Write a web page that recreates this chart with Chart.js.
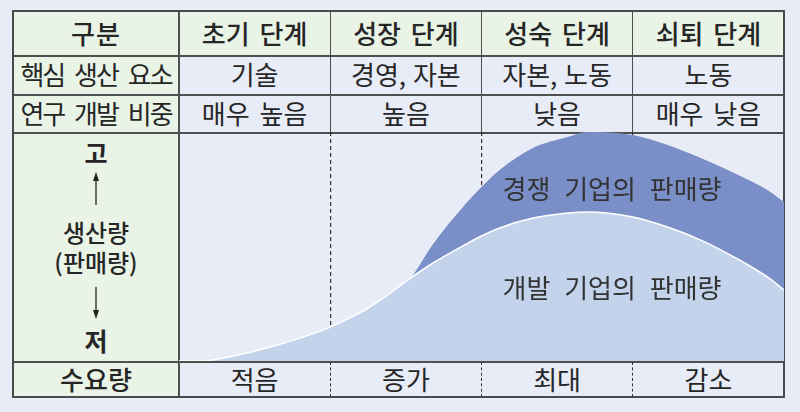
<!DOCTYPE html>
<html>
<head>
<meta charset="utf-8">
<script src="https://cdn.jsdelivr.net/npm/chart.js@4.4.0/dist/chart.umd.min.js"></script>
<style>
  html, body { margin: 0; padding: 0; width: 800px; height: 412px; overflow: hidden;
    background: #e8ecf7; font-family: "Noto Sans CJK KR", "Noto Sans", sans-serif; color: #262626; }
  .box { position: absolute; box-sizing: border-box; }
  .t { position: absolute; transform: translate(-50%, -50%); white-space: nowrap; line-height: 1; }
  #chartWrap { position: absolute; left: 179px; top: 132px; width: 605px; height: 229px; }
</style>
</head>
<body>
<div id="root"></div>
<div id="chartWrap"><canvas id="myChart"></canvas></div>
<div id="over"></div>
<script>
// table text
var rowTitle = '구분'
var stages = ['초기 단계', '성장 단계', '성숙 단계', '쇠퇴 단계']
var factorTitle = '핵심 생산 요소'
var coreFactors = ['기술', '경영, 자본', '자본, 노동', '노동']
var rdTitle = '연구 개발 비중'
var rdShare = ['매우 높음', '높음', '낮음', '매우 낮음']
var demandTitle = '수요량'
var demand = ['적음', '증가', '최대', '감소']

// curves: x in stage units (0..4), y in % of chart height (competitor stacked on developer)
var stagePos = [0, 0.16, 0.36, 0.58, 0.8, 1.0, 1.13, 1.24, 1.35, 1.46, 1.53, 1.68, 1.9, 2.0,
  2.12, 2.34, 2.57, 2.7, 3.0, 3.23, 3.45, 3.67, 3.89, 4.0]
var developerSales = [0, 0, 2.2, 5.7, 10.0, 14.8, 18.8, 22.7, 27.5, 32.8, 36.2, 42.8, 51.1, 54.6,
  58.1, 62.4, 64.6, 65.1, 62.9, 58.5, 52.8, 45.4, 36.7, 31.0]
var competitorSales = [0, 0, 0, 0, 0, 0, 0, 0, 0, 0, 0, 8.3, 17.9, 21.4,
  25.3, 30.6, 33.2, 34.9, 35.8, 35.8, 35.8, 36.7, 38.0, 38.4]
var developerLabel = '개발 기업의 판매량'
var competitorLabel = '경쟁 기업의 판매량'

var root = document.getElementById('root')
var over = document.getElementById('over')
function box (l, t, w, h, css) {
  var d = document.createElement('div')
  d.className = 'box'
  d.style.cssText = 'left:' + l + 'px;top:' + t + 'px;width:' + w + 'px;height:' + h + 'px;' + (css || '')
  root.appendChild(d)
  return d
}
function text (parent, s, cx, cy, css) {
  var d = document.createElement('div')
  d.className = 't'
  d.textContent = s
  d.style.cssText = 'left:' + cx + 'px;top:' + cy + 'px;' + (css || '')
  parent.appendChild(d)
  return d
}

var green = '#e9f4e6'
var line = '#4f4f4f'
var colX = [179, 330.25, 481.5, 632.75, 784]
var colC = [254.6, 405.9, 557.1, 708.4]

// backgrounds
box(12, 10, 773, 46, 'background:' + green)
box(12, 55, 167, 343, 'background:' + green)
// horizontal lines
box(12, 55, 773, 1.5, 'background:' + line)
box(12, 94, 773, 1.5, 'background:' + line)
box(12, 132, 773, 1.5, 'background:' + line)
box(12, 361, 773, 1.5, 'background:' + line)
// vertical lines
box(178, 10, 2, 388, 'background:' + line)
for (var i = 1; i < 4; i++) {
  box(colX[i] - 0.5, 10, 1.2, 123, 'background:' + line)
  box(colX[i] - 0.5, 362, 1.2, 35, 'border-left:1.2px dashed #333')
}
// outer frame
box(12, 10, 773, 388, 'border:2px solid #4a4a4a')

var hdr = 'font-size:26px;font-weight:500;'
var cell = 'font-size:26px;'
text(root, rowTitle, 96, 33, hdr + 'letter-spacing:1px')
text(root, factorTitle, 96, 74, cell + 'word-spacing:6px;letter-spacing:-2px')
text(root, rdTitle, 96, 113, cell + 'word-spacing:6px;letter-spacing:-2px')
text(root, demandTitle, 96, 379, hdr)
for (var k = 0; k < 4; k++) {
  text(root, stages[k], colC[k], 33, hdr + 'word-spacing:4px')
  text(root, coreFactors[k], colC[k], 74, cell + 'word-spacing:1px')
  text(root, rdShare[k], colC[k], 113, cell + 'word-spacing:4px')
  text(root, demand[k], colC[k], 379, cell)
}
// y axis label column
text(root, '고', 96, 152, 'font-size:25px;font-weight:700')
text(root, '생산량', 96, 232, 'font-size:24px;font-weight:500')
text(root, '(판매량)', 96, 262, 'font-size:24px;font-weight:500')
text(root, '저', 96, 340, 'font-size:25px;font-weight:700')
var svg = '<svg class="box" style="left:86px;top:165px" width="20" height="160" xmlns="http://www.w3.org/2000/svg">' +
  '<line x1="10" y1="14" x2="10" y2="40" stroke="#222" stroke-width="1.3"/>' +
  '<path d="M10 7 L7 16 L13 16 Z" fill="#222"/>' +
  '<line x1="10" y1="122" x2="10" y2="146" stroke="#222" stroke-width="1.3"/>' +
  '<path d="M10 154 L7 145 L13 145 Z" fill="#222"/></svg>'
root.insertAdjacentHTML('beforeend', svg)

function pts (arr) {
  return stagePos.map(function (x, i) { return { x: x, y: arr[i] } })
}
var ctx = document.getElementById('myChart')
var myChart = new Chart(ctx, {
  type: 'line',
  data: {
    datasets: [
      {
        label: developerLabel,
        data: pts(developerSales),
        fill: 'origin',
        backgroundColor: '#c3d3ec',
        borderColor: '#ffffff',
        borderWidth: 1.5,
        pointRadius: 0,
        cubicInterpolationMode: 'monotone'
      },
      {
        label: competitorLabel,
        data: pts(competitorSales),
        fill: '-1',
        backgroundColor: '#7a8ec7',
        borderColor: 'rgba(0,0,0,0)',
        borderWidth: 0,
        pointRadius: 0,
        cubicInterpolationMode: 'monotone'
      }
    ]
  },
  options: {
    responsive: true,
    maintainAspectRatio: false,
    animation: false,
    layout: { padding: 0 },
    plugins: { legend: { display: false }, tooltip: { enabled: false } },
    scales: {
      x: {
        type: 'linear',
        min: 0,
        max: 4,
        z: 1,
        ticks: { display: false, stepSize: 1 },
        border: { display: false, dash: [4, 3] },
        grid: {
          drawTicks: false,
          lineWidth: 1.2,
          color: function (c) {
            return (c.tick && c.tick.value > 0 && c.tick.value < 4) ? '#333' : 'rgba(0,0,0,0)'
          }
        }
      },
      y: { display: false, min: 0, max: 100, stacked: true }
    }
  }
})

text(over, competitorLabel, 612, 188, 'font-size:26px;word-spacing:8px;color:#333;z-index:5')
text(over, developerLabel, 612, 287, 'font-size:26px;word-spacing:8px;color:#333;z-index:5')
</script>
</body>
</html>
